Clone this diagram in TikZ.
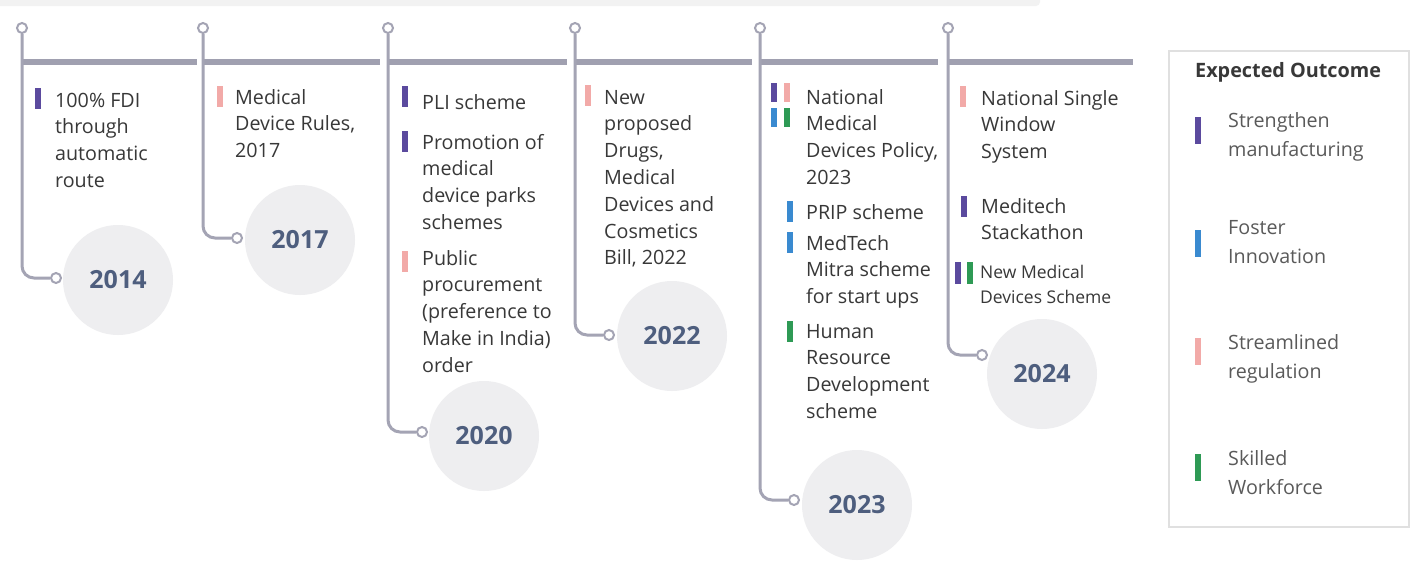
\documentclass[tikz,border=0pt]{standalone}
\usepackage{fontspec}
\setmainfont{Open Sans}
\definecolor{lineg}{HTML}{A4A4B4}
\definecolor{barg}{HTML}{A0A0B0}
\definecolor{circg}{HTML}{EEEEF0}
\definecolor{yearcol}{HTML}{4E5E7E}
\definecolor{txt}{HTML}{383838}
\definecolor{legtxt}{HTML}{5A5A5A}
\definecolor{purp}{HTML}{5B4A9E}
\definecolor{blu}{HTML}{3A8AD0}
\definecolor{pnk}{HTML}{F2AAA8}
\definecolor{grn}{HTML}{2E9A55}
\newcommand\itf{\fontsize{19.7}{26.8}\selectfont}
\newcommand\smf{\fontsize{17.5}{25}\selectfont}
\newcommand\lgf{\fontsize{19.7}{29}\selectfont}
\newcommand\lns[1]{\begin{tabular}[t]{@{}l@{}}#1\end{tabular}}
\tikzset{
  conn/.style={draw=lineg, line width=3pt, rounded corners=12pt},
  tbar/.style={draw=barg, line width=6pt},
  dot/.style={circle, draw=lineg, line width=2pt, fill=white, minimum size=10pt, inner sep=0pt},
  yearc/.style={circle, fill=circg, minimum size=110pt, inner sep=0pt, text=yearcol, font=\fontsize{25}{30}\selectfont\bfseries},
  item/.style={anchor=base west, inner sep=0pt, text=txt, font=\itf},
  ebar/.style={fill=#1, minimum width=6pt, minimum height=21pt, inner sep=0pt, anchor=north},
  lbar/.style={fill=#1, minimum width=6pt, minimum height=27pt, inner sep=0pt, anchor=north},
  litem/.style={anchor=base west, inner sep=0pt, text=legtxt, font=\lgf},
}
\begin{document}
\begin{tikzpicture}[x=1pt,y=-1pt]
\useasboundingbox (0,0) rectangle (1411,563);
\fill[white] (0,0) rectangle (1411,563);
\fill[black!5, rounded corners=4pt] (-10,-10) rectangle (1040,6);

% year circles
\node[yearc] (c14) at (118,280) {2014};
\node[yearc] (c17) at (300,240) {2017};
\node[yearc] (c20) at (484,436) {2020};
\node[yearc] (c22) at (672,336) {2022};
\node[yearc] (c23) at (857,505) {2023};
\node[yearc] (c24) at (1042,374) {2024};

% top bar segments
\draw[tbar] (22,62) -- (197,62);
\draw[tbar] (203,62) -- (380,62);
\draw[tbar] (388,62) -- (567,62);
\draw[tbar] (575,62) -- (752,62);
\draw[tbar] (760,62) -- (938,62);
\draw[tbar] (948,62) -- (1133,62);

% dots
\node[dot] (t14) at (22,28) {};
\node[dot] (b14) at (56,278) {};
\node[dot] (t17) at (203,28) {};
\node[dot] (b17) at (237,238) {};
\node[dot] (t20) at (388,28) {};
\node[dot] (b20) at (422,432) {};
\node[dot] (t22) at (575,28) {};
\node[dot] (b22) at (609,335) {};
\node[dot] (t23) at (760,28) {};
\node[dot] (b23) at (794,500) {};
\node[dot] (t24) at (948,28) {};
\node[dot] (b24) at (982,355) {};

% connectors
\draw[conn] (t14) -- (t14 |- b14) -- (b14);
\draw[conn] (t17) -- (t17 |- b17) -- (b17);
\draw[conn] (t20) -- (t20 |- b20) -- (b20);
\draw[conn] (t22) -- (t22 |- b22) -- (b22);
\draw[conn] (t23) -- (t23 |- b23) -- (b23);
\draw[conn] (t24) -- (t24 |- b24) -- (b24);

% 2014
\node[ebar=purp] (m14a) at (38,88) {};
\node[item] (i14a) at (55,107) {\lns{100\% FDI\\through\\automatic\\route}};
% 2017
\node[ebar=pnk] (m17a) at (220,86) {};
\node[item] (i17a) at (235,104) {\lns{Medical\\Device Rules,\\2017}};
% 2020
\node[ebar=purp] (m20a) at (405,86) {};
\node[item] (i20a) at (422,109) {\lns{PLI scheme}};
\node[ebar=purp] (m20b) at (405,131) {};
\node[item] (i20b) at (422,149) {\lns{Promotion of\\medical\\device parks\\schemes}};
\node[ebar=pnk] (m20c) at (405,251) {};
\node[item] (i20c) at (422,265) {\lns{Public\\procurement\\(preference to\\Make in India)\\order}};
% 2022
\node[ebar=pnk] (m22a) at (588,85) {};
\node[item] (i22a) at (604,104) {\lns{New\\proposed\\Drugs,\\Medical\\Devices and\\Cosmetics\\Bill, 2022}};
% 2023
\node[ebar=purp, minimum height=19pt] (m23a) at (774,83) {};
\node[ebar=pnk, minimum height=19pt] (m23b) at (787,83) {};
\node[ebar=blu, minimum height=19pt] (m23c) at (774,108) {};
\node[ebar=grn, minimum height=19pt] (m23d) at (787,108) {};
\node[item] (i23a) at (806,104) {\lns{National\\Medical\\Devices Policy,\\2023}};
\node[ebar=blu] (m23e) at (790,201) {};
\node[item] (i23b) at (806,219) {\lns{PRIP scheme}};
\node[ebar=blu] (m23f) at (790,232) {};
\node[item] (i23c) at (806,250) {\lns{MedTech\\Mitra scheme\\for start ups}};
\node[ebar=grn] (m23g) at (790,321) {};
\node[item] (i23d) at (806,338) {\lns{Human\\Resource\\Development\\scheme}};
% 2024
\node[ebar=pnk] (m24a) at (963,86) {};
\node[item] (i24a) at (981,105) {\lns{National Single\\Window\\System}};
\node[ebar=purp] (m24b) at (964,196) {};
\node[item] (i24b) at (981,213) {\lns{Meditech\\Stackathon}};
\node[ebar=purp, minimum height=22pt] (m24c) at (958,262) {};
\node[ebar=grn, minimum height=22pt] (m24d) at (970,262) {};
\node[item, font=\smf] (i24c) at (980,278) {\lns{New Medical\\Devices Scheme}};

% legend
\node[draw=black!12, line width=1.5pt, fill=white, minimum width=240pt, minimum height=476pt, anchor=north west, inner sep=0pt] (leg) at (1168,50) {};
\node[anchor=base west, inner sep=0pt, text=txt, font=\fontsize{19.8}{22}\selectfont\bfseries] (lt) at (1195,77) {Expected Outcome};
\node[lbar=purp] (l1) at (1198,117) {};
\node[litem] (lt1) at (1228,127) {\lns{Strengthen\\manufacturing}};
\node[lbar=blu] (l2) at (1198,230) {};
\node[litem] (lt2) at (1228,234) {\lns{Foster\\Innovation}};
\node[lbar=pnk] (l3) at (1198,338) {};
\node[litem] (lt3) at (1228,349) {\lns{Streamlined\\regulation}};
\node[lbar=grn] (l4) at (1198,454) {};
\node[litem] (lt4) at (1228,465) {\lns{Skilled\\Workforce}};
\end{tikzpicture}
\end{document}
